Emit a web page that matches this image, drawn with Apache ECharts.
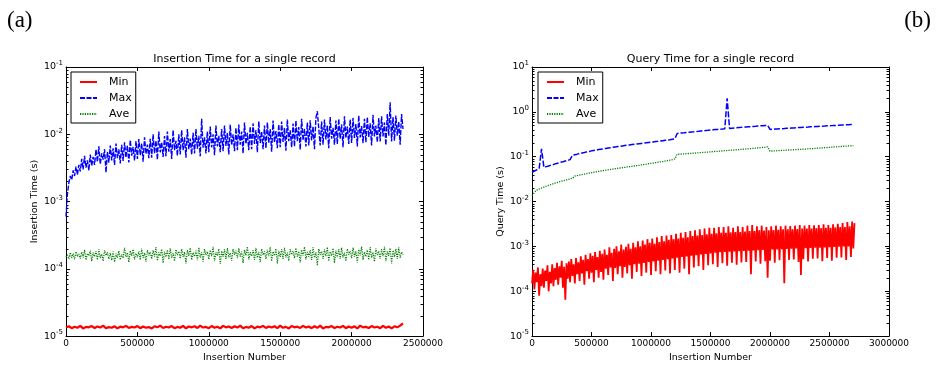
<!DOCTYPE html>
<html><head><meta charset="utf-8">
<script src="https://cdn.jsdelivr.net/npm/echarts@6/dist/echarts.min.js"></script>
<style>html,body{margin:0;padding:0;background:#fff}#c{width:936px;height:368px}</style>
</head><body><div id="c"></div>
<script>
const FONT = 'DejaVu Sans';
const panelTitles = ['Insertion Time for a single record', 'Query Time for a single record'];
const panelTags = ['(a)', '(b)'];
const yNames = ['Insertion Time (s)', 'Query Time (s)'];
const xName = 'Insertion Number';
const seriesNames = ['Min', 'Max', 'Ave'];
const stepMinA = 20000, stepA = 10000, stepMinB = 10000, stepB = 20000;
const xMaxA = 2500000, xMaxB = 3000000, xInterval = 500000;
const yMinA = 1e-5, yMaxA = 1e-1, yMinB = 1e-5, yMaxB = 1e1;

// Panel (a): insertion time
const minA = [
1.34e-5,1.40e-5,1.31e-5,1.38e-5,1.33e-5,1.42e-5,1.30e-5,1.37e-5,1.35e-5,1.41e-5,
1.32e-5,1.39e-5,1.34e-5,1.43e-5,1.31e-5,1.36e-5,1.33e-5,1.40e-5,1.30e-5,1.38e-5,
1.35e-5,1.42e-5,1.32e-5,1.37e-5,1.34e-5,1.41e-5,1.31e-5,1.39e-5,1.33e-5,1.36e-5,
1.30e-5,1.40e-5,1.35e-5,1.43e-5,1.32e-5,1.38e-5,1.34e-5,1.41e-5,1.31e-5,1.37e-5,
1.33e-5,1.42e-5,1.30e-5,1.39e-5,1.35e-5,1.40e-5,1.32e-5,1.43e-5,1.34e-5,1.37e-5,
1.31e-5,1.41e-5,1.33e-5,1.38e-5,1.30e-5,1.42e-5,1.35e-5,1.39e-5,1.32e-5,1.40e-5,
1.34e-5,1.43e-5,1.31e-5,1.37e-5,1.33e-5,1.41e-5,1.30e-5,1.38e-5,1.35e-5,1.42e-5,
1.32e-5,1.39e-5,1.34e-5,1.40e-5,1.31e-5,1.43e-5,1.33e-5,1.37e-5,1.30e-5,1.41e-5,
1.35e-5,1.38e-5,1.32e-5,1.42e-5,1.34e-5,1.39e-5,1.31e-5,1.40e-5,1.33e-5,1.43e-5,
1.30e-5,1.37e-5,1.35e-5,1.41e-5,1.32e-5,1.38e-5,1.34e-5,1.42e-5,1.31e-5,1.39e-5,
1.33e-5,1.40e-5,1.30e-5,1.43e-5,1.35e-5,1.37e-5,1.32e-5,1.41e-5,1.34e-5,1.38e-5,
1.31e-5,1.42e-5,1.33e-5,1.39e-5,1.30e-5,1.40e-5,1.35e-5,1.43e-5,1.55e-5];
const maxA = [
6e-4,1.3e-3,1.9e-3,2.4e-3,2.1e-3,2.9e-3,2.4e-3,3.3e-3,2.5e-3,3.5e-3,
2.8e-3,4.3e-3,3.0e-3,4.8e-3,3.2e-3,4.1e-3,2.9e-3,5.0e-3,3.4e-3,4.6e-3,
3.5e-3,5.9e-3,3.9e-3,6.6e-3,3.6e-3,5.2e-3,4.2e-3,6.0e-3,2.7e-3,5.5e-3,
3.8e-3,6.8e-3,4.1e-3,6.2e-3,3.5e-3,7.3e-3,4.4e-3,6.0e-3,3.7e-3,7.0e-3,
4.0e-3,7.6e-3,4.5e-3,6.8e-3,3.8e-3,8.2e-3,4.8e-3,6.5e-3,4.1e-3,7.9e-3,
4.3e-3,8.5e-3,4.9e-3,7.3e-3,3.9e-3,9.0e-3,5.1e-3,7.0e-3,4.4e-3,8.6e-3,
4.5e-3,1.0e-2,5.2e-3,8.0e-3,4.2e-3,1.1e-2,5.4e-3,7.6e-3,4.6e-3,9.4e-3,
4.7e-3,1.1e-2,5.5e-3,8.5e-3,4.3e-3,1.15e-2,5.8e-3,8.0e-3,4.8e-3,1.0e-2,
5.0e-3,1.15e-2,5.8e-3,9.0e-3,4.5e-3,1.2e-2,6.0e-3,8.6e-3,5.0e-3,1.05e-2,
5.2e-3,1.2e-2,6.1e-3,9.5e-3,4.7e-3,1.7e-2,6.3e-3,9.0e-3,5.2e-3,1.1e-2,
5.4e-3,1.3e-2,6.4e-3,1.0e-2,4.9e-3,1.35e-2,6.6e-3,9.5e-3,5.4e-3,1.2e-2,
5.6e-3,1.35e-2,6.7e-3,1.05e-2,5.0e-3,1.4e-2,6.9e-3,1.0e-2,5.6e-3,1.25e-2,
5.8e-3,1.4e-2,7.0e-3,1.1e-2,5.2e-3,1.5e-2,7.2e-3,1.05e-2,5.8e-3,1.3e-2,
6.0e-3,1.45e-2,7.2e-3,1.15e-2,5.4e-3,1.55e-2,7.4e-3,1.1e-2,6.0e-3,1.35e-2,
6.2e-3,1.5e-2,7.4e-3,1.2e-2,5.5e-3,1.6e-2,7.6e-3,1.12e-2,6.2e-3,1.4e-2,
6.4e-3,1.55e-2,7.7e-3,1.25e-2,5.7e-3,1.65e-2,7.9e-3,1.15e-2,6.4e-3,1.45e-2,
6.6e-3,1.6e-2,7.9e-3,1.28e-2,5.9e-3,1.7e-2,8.1e-3,1.2e-2,6.6e-3,1.5e-2,
6.8e-3,1.62e-2,8.1e-3,1.3e-2,6.0e-3,1.75e-2,2.2e-2,1.22e-2,6.8e-3,1.55e-2,
7.0e-3,1.65e-2,8.4e-3,1.35e-2,6.2e-3,1.8e-2,8.6e-3,1.25e-2,7.0e-3,1.6e-2,
7.2e-3,1.7e-2,8.6e-3,1.4e-2,6.4e-3,1.85e-2,8.8e-3,1.3e-2,7.2e-3,1.65e-2,
7.4e-3,1.75e-2,8.8e-3,1.42e-2,6.6e-3,1.9e-2,9.0e-3,1.32e-2,7.4e-3,1.7e-2,
7.6e-3,1.8e-2,9.1e-3,1.45e-2,6.8e-3,1.95e-2,9.3e-3,1.35e-2,7.6e-3,1.75e-2,
7.8e-3,1.85e-2,9.3e-3,1.5e-2,6.9e-3,2.0e-2,9.5e-3,3.0e-2,7.8e-3,1.8e-2,
8.0e-3,1.9e-2,9.5e-3,1.55e-2,7.0e-3,2.0e-2,1.2e-2];
const aveA = [
1.50e-4,1.62e-4,1.40e-4,1.75e-4,1.45e-4,1.68e-4,1.38e-4,1.80e-4,1.52e-4,1.66e-4,
1.42e-4,1.78e-4,1.48e-4,1.92e-4,1.35e-4,1.70e-4,1.56e-4,1.86e-4,1.30e-4,1.74e-4,
1.52e-4,1.83e-4,1.36e-4,1.95e-4,1.44e-4,1.66e-4,1.30e-4,1.88e-4,1.58e-4,1.76e-4,
1.40e-4,1.72e-4,1.34e-4,1.80e-4,1.26e-4,1.68e-4,1.46e-4,1.85e-4,1.36e-4,1.64e-4,
1.44e-4,2.05e-4,1.50e-4,1.74e-4,1.25e-4,1.86e-4,1.56e-4,1.95e-4,1.38e-4,1.70e-4,
1.48e-4,1.82e-4,1.36e-4,2.00e-4,1.45e-4,1.72e-4,1.28e-4,1.90e-4,1.58e-4,1.78e-4,
1.40e-4,1.88e-4,1.52e-4,2.10e-4,1.32e-4,1.75e-4,1.55e-4,1.96e-4,1.22e-4,1.80e-4,
1.50e-4,1.92e-4,1.38e-4,2.02e-4,1.46e-4,1.70e-4,1.30e-4,1.94e-4,1.60e-4,1.82e-4,
1.42e-4,1.98e-4,1.50e-4,1.78e-4,1.20e-4,1.90e-4,1.56e-4,2.05e-4,1.36e-4,1.74e-4,
1.52e-4,1.86e-4,1.34e-4,2.08e-4,1.46e-4,1.76e-4,1.28e-4,1.96e-4,1.60e-4,1.80e-4,
1.38e-4,1.90e-4,1.54e-4,2.12e-4,1.30e-4,1.78e-4,1.56e-4,1.98e-4,1.18e-4,1.84e-4,
1.50e-4,1.94e-4,1.40e-4,2.04e-4,1.48e-4,1.72e-4,1.32e-4,1.96e-4,1.62e-4,1.86e-4,
1.44e-4,2.02e-4,1.52e-4,1.80e-4,1.22e-4,1.92e-4,1.58e-4,2.14e-4,1.38e-4,1.76e-4,
1.54e-4,1.88e-4,1.36e-4,2.06e-4,1.46e-4,1.78e-4,1.26e-4,1.98e-4,1.60e-4,1.82e-4,
1.40e-4,1.92e-4,1.54e-4,2.10e-4,1.30e-4,1.80e-4,1.56e-4,2.00e-4,1.20e-4,1.86e-4,
1.50e-4,1.95e-4,1.40e-4,2.05e-4,1.48e-4,1.74e-4,1.32e-4,1.96e-4,1.62e-4,1.84e-4,
1.44e-4,2.04e-4,1.52e-4,1.82e-4,1.24e-4,1.92e-4,1.58e-4,2.12e-4,1.38e-4,1.78e-4,
1.52e-4,1.90e-4,1.36e-4,2.08e-4,1.46e-4,1.76e-4,1.12e-4,1.98e-4,1.60e-4,1.82e-4,
1.40e-4,1.94e-4,1.54e-4,2.10e-4,1.30e-4,1.80e-4,1.56e-4,2.02e-4,1.22e-4,1.86e-4,
1.50e-4,1.96e-4,1.40e-4,2.06e-4,1.48e-4,1.74e-4,1.30e-4,1.98e-4,1.62e-4,1.84e-4,
1.44e-4,2.06e-4,1.52e-4,1.82e-4,1.24e-4,1.94e-4,1.58e-4,2.14e-4,1.36e-4,1.78e-4,
1.52e-4,1.90e-4,1.36e-4,2.10e-4,1.46e-4,1.76e-4,1.28e-4,2.00e-4,1.60e-4,1.84e-4,
1.40e-4,1.96e-4,1.54e-4,2.12e-4,1.30e-4,1.82e-4,1.56e-4,2.04e-4,1.20e-4,1.88e-4,
1.50e-4,1.98e-4,1.40e-4,2.08e-4,1.46e-4,1.78e-4,1.62e-4];

// Panel (b): query time
const minB = [
1.5e-4,3.0e-4,1.1e-4,2.6e-4,1.6e-4,3.4e-4,0.8e-4,2.4e-4,1.3e-4,3.2e-4,
1.2e-4,2.9e-4,1.7e-4,3.8e-4,1.0e-4,2.7e-4,1.5e-4,4.0e-4,1.3e-4,3.3e-4,
1.8e-4,4.3e-4,1.4e-4,3.6e-4,2.0e-4,4.8e-4,1.2e-4,3.5e-4,0.65e-4,4.2e-4,
1.9e-4,4.6e-4,1.6e-4,5.2e-4,2.2e-4,4.0e-4,1.5e-4,5.5e-4,2.4e-4,4.4e-4,
1.7e-4,6.0e-4,2.5e-4,5.0e-4,1.4e-4,6.5e-4,2.8e-4,5.2e-4,1.9e-4,7.0e-4,
2.6e-4,6.2e-4,1.6e-4,7.5e-4,3.0e-4,5.8e-4,2.0e-4,8.0e-4,2.7e-4,6.8e-4,
1.8e-4,8.5e-4,3.2e-4,6.5e-4,2.3e-4,9.5e-4,3.4e-4,7.2e-4,1.7e-4,8.8e-4,
3.3e-4,1.0e-3,2.4e-4,7.8e-4,3.6e-4,1.1e-3,2.0e-4,8.5e-4,3.5e-4,9.8e-4,
2.5e-4,1.15e-3,3.8e-4,8.8e-4,1.9e-4,1.2e-3,4.0e-4,9.5e-4,2.7e-4,1.3e-3,
4.1e-4,1.0e-3,2.2e-4,1.35e-3,4.3e-4,1.1e-3,2.6e-4,1.45e-3,4.5e-4,1.2e-3,
2.3e-4,1.5e-3,4.6e-4,1.15e-3,2.8e-4,1.6e-3,4.8e-4,1.25e-3,2.4e-4,1.7e-3,
5.0e-4,1.3e-3,2.9e-4,1.75e-3,5.2e-4,1.4e-3,2.5e-4,1.8e-3,5.4e-4,1.45e-3,
3.0e-4,1.9e-3,5.6e-4,1.5e-3,2.6e-4,2.0e-3,5.8e-4,1.55e-3,3.2e-4,2.1e-3,
6.0e-4,1.6e-3,2.4e-4,2.2e-3,6.2e-4,1.7e-3,3.4e-4,2.3e-3,6.4e-4,1.75e-3,
3.6e-4,2.4e-3,6.6e-4,1.8e-3,3.0e-4,2.5e-3,6.8e-4,1.85e-3,3.8e-4,2.6e-3,
7.0e-4,1.9e-3,4.0e-4,2.6e-3,7.2e-4,1.95e-3,3.5e-4,2.7e-3,7.4e-4,2.0e-3,
4.2e-4,2.7e-3,7.5e-4,2.0e-3,3.7e-4,2.8e-3,7.6e-4,2.05e-3,4.3e-4,2.6e-3,
7.7e-4,2.1e-3,3.9e-4,2.8e-3,7.8e-4,2.1e-3,4.4e-4,2.7e-3,7.9e-4,2.15e-3,
4.5e-4,2.9e-3,8.0e-4,2.2e-3,2.4e-4,3.0e-3,8.1e-4,2.2e-3,4.6e-4,2.8e-3,
8.2e-4,2.3e-3,4.1e-4,2.9e-3,8.3e-4,2.25e-3,4.7e-4,2.7e-3,2.0e-4,2.3e-3,
4.8e-4,2.8e-3,8.5e-4,2.3e-3,4.3e-4,2.9e-3,8.6e-4,2.35e-3,4.9e-4,2.8e-3,
8.7e-4,2.4e-3,1.5e-4,2.9e-3,8.8e-4,2.4e-3,5.0e-4,2.85e-3,8.9e-4,2.4e-3,
5.1e-4,2.9e-3,9.0e-4,2.45e-3,4.5e-4,3.0e-3,2.3e-4,2.5e-3,5.2e-4,2.9e-3,
9.1e-4,2.5e-3,4.6e-4,3.0e-3,9.2e-4,2.5e-3,5.3e-4,2.95e-3,9.3e-4,2.55e-3,
5.4e-4,3.0e-3,9.4e-4,2.55e-3,4.7e-4,3.1e-3,9.5e-4,2.6e-3,5.5e-4,3.0e-3,
9.6e-4,2.6e-3,4.8e-4,3.1e-3,9.7e-4,2.65e-3,5.6e-4,3.2e-3,9.8e-4,2.7e-3,
5.7e-4,3.3e-3,1.0e-3,2.7e-3,5.0e-4,3.5e-3,1.0e-3,2.8e-3,5.8e-4,3.6e-3,
9.0e-4,3.3e-3];
const maxB = [
0.045,0.048,0.051,0.054,0.150,0.058,0.060,0.062,0.065,0.067,
0.070,0.072,0.075,0.077,0.080,0.083,0.086,0.108,0.111,0.114,
0.118,0.121,0.124,0.128,0.131,0.135,0.138,0.141,0.144,0.147,
0.150,0.153,0.156,0.159,0.162,0.165,0.168,0.171,0.174,0.177,
0.180,0.183,0.186,0.189,0.192,0.195,0.198,0.201,0.204,0.207,
0.210,0.213,0.217,0.220,0.224,0.228,0.232,0.236,0.240,0.245,
0.250,0.330,0.334,0.339,0.343,0.348,0.352,0.357,0.361,0.366,
0.370,0.375,0.379,0.384,0.388,0.393,0.397,0.402,0.406,0.411,
0.415,0.420,2.000,0.428,0.433,0.438,0.442,0.447,0.451,0.456,
0.460,0.465,0.469,0.474,0.478,0.483,0.487,0.492,0.496,0.500,
0.405,0.408,0.412,0.415,0.419,0.422,0.425,0.429,0.432,0.436,
0.439,0.442,0.446,0.449,0.453,0.456,0.459,0.463,0.466,0.470,
0.473,0.476,0.480,0.483,0.487,0.490,0.493,0.497,0.500,0.504,
0.507,0.510,0.514,0.517,0.521,0.524];
const aveB = [
0.0135,0.016,0.018,0.019,0.020,0.021,0.022,0.023,0.024,0.025,
0.026,0.027,0.028,0.029,0.030,0.031,0.032,0.033,0.037,0.038,
0.039,0.040,0.041,0.042,0.043,0.044,0.045,0.046,0.047,0.048,
0.049,0.050,0.051,0.052,0.053,0.054,0.055,0.056,0.057,0.058,
0.059,0.060,0.061,0.062,0.063,0.064,0.066,0.067,0.068,0.070,
0.071,0.072,0.074,0.075,0.077,0.078,0.080,0.082,0.084,0.086,
0.089,0.113,0.114,0.115,0.116,0.117,0.118,0.119,0.120,0.121,
0.122,0.124,0.125,0.126,0.127,0.128,0.130,0.131,0.132,0.133,
0.135,0.136,0.137,0.139,0.140,0.141,0.143,0.144,0.146,0.147,
0.149,0.150,0.152,0.154,0.155,0.157,0.159,0.161,0.163,0.166,
0.133,0.134,0.135,0.136,0.137,0.138,0.139,0.140,0.141,0.142,
0.143,0.144,0.145,0.146,0.147,0.148,0.150,0.151,0.152,0.153,
0.155,0.156,0.157,0.159,0.160,0.162,0.163,0.165,0.166,0.168,
0.169,0.171,0.172,0.174,0.175,0.177];

// minor tick positions of the log axes
const minorTicksA = [2e-5,3e-5,4e-5,5e-5,6e-5,7e-5,8e-5,9e-5,2e-4,3e-4,4e-4,5e-4,6e-4,7e-4,8e-4,9e-4,
  2e-3,3e-3,4e-3,5e-3,6e-3,7e-3,8e-3,9e-3,2e-2,3e-2,4e-2,5e-2,6e-2,7e-2,8e-2,9e-2];
const minorTicksB = [2e-5,3e-5,4e-5,5e-5,6e-5,7e-5,8e-5,9e-5,2e-4,3e-4,4e-4,5e-4,6e-4,7e-4,8e-4,9e-4,
  2e-3,3e-3,4e-3,5e-3,6e-3,7e-3,8e-3,9e-3,2e-2,3e-2,4e-2,5e-2,6e-2,7e-2,8e-2,9e-2,
  0.2,0.3,0.4,0.5,0.6,0.7,0.8,0.9,2,3,4,5,6,7,8,9];

const toPts = (arr, step) => arr.map((v, i) => [i * step, v]);

function logLabel(v) {
  const e = Math.round(Math.log10(v));
  return '{b|10}{s|' + e + '}';
}
const richY = {
  b: {fontSize: 9.5, fontFamily: FONT, color: '#000', lineHeight: 14},
  s: {fontSize: 7, fontFamily: FONT, color: '#000', lineHeight: 8, verticalAlign: 'top'}
};

function xAx(grid, max, pos, main) {
  return {
    type: 'value', gridIndex: grid, min: 0, max: max, interval: xInterval, position: pos,
    axisLine: {show: true, onZero: false, lineStyle: {color: '#000', width: 1}},
    axisTick: {show: true, inside: true, length: 4, lineStyle: {color: '#000'}},
    axisLabel: {show: main, fontSize: 9, fontFamily: FONT, color: '#000', margin: 3,
      showMinLabel: true, showMaxLabel: true, formatter: v => String(v)},
    splitLine: {show: false},
    name: main ? xName : '', nameLocation: 'middle', nameGap: 14,
    nameTextStyle: {fontSize: 9.5, fontFamily: FONT, color: '#000'}
  };
}
function yAx(grid, min, max, pos, name) {
  return {
    type: 'log', logBase: 10, gridIndex: grid, min: min, max: max, position: pos,
    axisLine: {show: true, onZero: false, lineStyle: {color: '#000', width: 1}},
    axisTick: {show: true, inside: true, length: 4, lineStyle: {color: '#000'}},
    axisLabel: {show: !!name, formatter: logLabel, rich: richY, margin: 3, showMinLabel: true, showMaxLabel: true},
    splitLine: {show: false},
    name: name || '', nameLocation: 'middle', nameRotate: 90, nameGap: 26,
    nameTextStyle: {fontSize: 9.5, fontFamily: FONT, color: '#000'}
  };
}
function lineSeries(name, data, xi, yi, color, type, width) {
  return {
    type: 'line', name: name, data: data, xAxisIndex: xi, yAxisIndex: yi,
    showSymbol: false, symbol: 'none', animation: false,
    lineStyle: {color: color, width: width, type: type}, itemStyle: {color: color},
    emphasis: {disabled: true}
  };
}
function minorTickSeries(vals, xi, yi) {
  return {
    type: 'custom', name: '_minor' + xi, xAxisIndex: xi, yAxisIndex: yi,
    data: vals.map(v => [0, v]), silent: true, animation: false, clip: false,
    renderItem: (params, api) => {
      const cs = params.coordSys;
      const y = Math.round(api.coord([0, api.value(1)])[1]) + 0.5;
      return {type: 'group', children: [
        {type: 'line', shape: {x1: cs.x, y1: y, x2: cs.x + 2.5, y2: y}, style: {stroke: '#000', lineWidth: 1}},
        {type: 'line', shape: {x1: cs.x + cs.width - 2.5, y1: y, x2: cs.x + cs.width, y2: y}, style: {stroke: '#000', lineWidth: 1}}
      ]};
    }
  };
}
function legend(left) {
  return {
    orient: 'vertical', left: left, top: 72, data: seriesNames,
    itemWidth: 17, itemHeight: 10, itemGap: 2, padding: [3, 4, 2, 8],
    borderColor: '#000', borderWidth: 1, backgroundColor: '#fff', borderRadius: 0,
    itemStyle: {opacity: 0, color: 'rgba(0,0,0,0)', borderWidth: 0},
    textStyle: {fontSize: 11, fontFamily: FONT, color: '#000', lineHeight: 14, padding: [0, 0, 0, 7]},
    selectedMode: false
  };
}

const gridA = {left: 66, top: 67, width: 357, height: 277};
const gridB = {left: 532, top: 67, width: 357, height: 277};

const chart = echarts.init(document.getElementById('c'), null, {renderer: 'canvas'});
chart.setOption({
  animation: false,
  backgroundColor: '#fff',
  grid: [gridA, gridB],
  xAxis: [xAx(0, xMaxA, 'bottom', true), xAx(0, xMaxA, 'top', false), xAx(1, xMaxB, 'bottom', true), xAx(1, xMaxB, 'top', false)],
  yAxis: [yAx(0, yMinA, yMaxA, 'left', yNames[0]), yAx(0, yMinA, yMaxA, 'right', null), yAx(1, yMinB, yMaxB, 'left', yNames[1]), yAx(1, yMinB, yMaxB, 'right', null)],
  legend: [legend(71), legend(538)],
  series: [
    lineSeries('Min', toPts(minA, stepMinA), 0, 0, '#ff0000', 'solid', 2.2),
    lineSeries('Max', toPts(maxA, stepA), 0, 0, '#0000ff', [5, 1.5], 1.4),
    lineSeries('Ave', toPts(aveA, stepA), 0, 0, '#008000', [1.2, 1.2], 1.2),
    lineSeries('Min', toPts(minB, stepMinB), 2, 2, '#ff0000', 'solid', 1.8),
    lineSeries('Max', toPts(maxB, stepB), 2, 2, '#0000ff', [6, 2], 1.5),
    lineSeries('Ave', toPts(aveB, stepB), 2, 2, '#008000', [1.2, 1.2], 1.3),
    minorTickSeries(minorTicksA, 0, 0),
    minorTickSeries(minorTicksB, 2, 2)
  ],
  graphic: [
    {type: 'text', x: 244.5, y: 59, style: {text: panelTitles[0], fontSize: 11, fontFamily: FONT, fill: '#000', align: 'center', verticalAlign: 'middle'}},
    {type: 'text', x: 710.5, y: 59, style: {text: panelTitles[1], fontSize: 11, fontFamily: FONT, fill: '#000', align: 'center', verticalAlign: 'middle'}},
    {type: 'text', x: 7, y: 21, style: {text: panelTags[0], fontSize: 23, fontFamily: 'Liberation Serif', fill: '#000', align: 'left', verticalAlign: 'middle'}},
    {type: 'text', x: 931, y: 21, style: {text: panelTags[1], fontSize: 23, fontFamily: 'Liberation Serif', fill: '#000', align: 'right', verticalAlign: 'middle'}}
  ]
});
</script>
</body></html>
